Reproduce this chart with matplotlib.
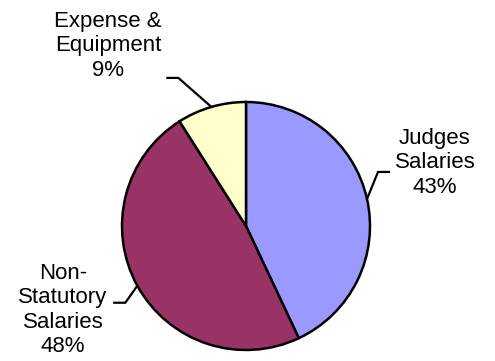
import numpy as np
import matplotlib.pyplot as plt

labels = ["Judges\nSalaries", "Non-\nStatutory\nSalaries", "Expense &\nEquipment"]
values = [43, 48, 9]
colors = ["#9999ff", "#993366", "#ffffcc"]

W, H = 495, 361
plt.rcParams["font.family"] = ["Liberation Sans", "DejaVu Sans"]

fig = plt.figure(figsize=(W / 100, H / 100), dpi=100)
ax = fig.add_axes([0, 0, 1, 1])

cx, cy, r = 246, H - 226, 124
wedges, _ = ax.pie(
  values,
  colors=colors,
  startangle=90,
  counterclock=False,
  center=(cx, cy),
  radius=r,
  frame=True,
  wedgeprops=dict(edgecolor="black", linewidth=1.8),
)
ax.set_xlim(0, W)
ax.set_ylim(0, H)
ax.set_axis_off()

# label placement: (text x, text y, elbow dx, elbow dy, side)
label_pos = [
  (435, H - 163, 11, 27, +1),
  (63, H - 310, -12, -17, -1),
  (108, H - 46, -33, 29, -1),
]

for w, lab, val, (tx, ty, ex, ey, side) in zip(wedges, labels, values, label_pos):
  mid = np.deg2rad((w.theta1 + w.theta2) / 2)
  px, py = cx + r * np.cos(mid), cy + r * np.sin(mid)
  bx, by = px + ex, py + ey
  hx = bx + side * 11
  ax.plot([px, bx, hx], [py, by, by], color="black", lw=1.6, solid_joinstyle="miter")
  ax.text(tx, ty, f"{lab}\n{val}%", ha="center", va="center",
          fontsize=16, linespacing=1.2)

fig.savefig("out.png", dpi=100, facecolor="white")
